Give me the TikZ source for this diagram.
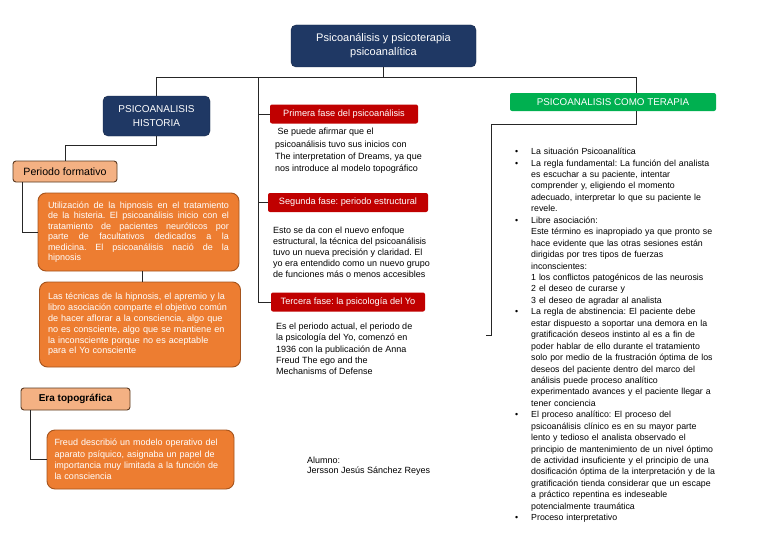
\documentclass[tikz,border=0pt]{standalone}
\usepackage{fontspec}
\setmainfont{Liberation Sans}
\usepackage{enumitem}
\usetikzlibrary{positioning,calc}
\definecolor{nv}{HTML}{1F3864}
\definecolor{rd}{HTML}{C00000}
\definecolor{gr}{HTML}{00B050}
\definecolor{or}{HTML}{ED7D31}
\definecolor{ob}{HTML}{A5541D}
\definecolor{lo}{HTML}{F4B183}
\definecolor{lb}{HTML}{5A3A22}
\definecolor{ln}{HTML}{262626}
\newcommand{\ft}[2]{\fontsize{#1}{#2}\selectfont}
\frenchspacing

\tikzset{
  navybox/.style={draw=nv!70!black, fill=nv, rounded corners=5pt, text=white,
    align=center, inner sep=2pt},
  phasebox/.style={fill=rd, rounded corners=2pt, text=white, minimum height=19pt,
    inner sep=2pt, font=\ft{9.2}{11}},
  periodbox/.style={draw=lb, fill=lo, rounded corners=3pt, text=black,
    inner sep=2pt, line width=0.9pt},
  notebox/.style={draw=ob, fill=or, rounded corners=8pt, text=white,
    inner sep=2pt, line width=0.9pt},
  plain/.style={anchor=north west, inner sep=0pt, align=left, text=black},
  link/.style={draw=ln, line width=0.8pt}
}

\begin{document}
\begin{tikzpicture}[x=1pt, y=-1pt]
  \fill[white] (0,0) rectangle (768,543);

  % main title and the three branches
  \node[navybox, minimum width=185pt, minimum height=42pt, font=\ft{11}{14}] (title)
    at (383.5,46) {Psicoanálisis y psicoterapia\\psicoanalítica};
  \node[navybox, minimum width=107pt, minimum height=40pt, font=\ft{10}{13.5}] (hist)
    at (156.5,116) {PSICOANALISIS\\HISTORIA};
  \node[fill=gr, rounded corners=2pt, text=white, minimum width=206pt, minimum height=18pt,
    inner sep=2pt, font=\ft{9.8}{11}] (terapia) at (613,102) {PSICOANALISIS COMO TERAPIA};

  \coordinate (bus) at (0,77);
  \coordinate (fase) at (258,77);
  \draw[link] (title.south) -- (title.south |- bus);
  \draw[link] (hist.north) -- (hist.north |- bus) -- ([xshift=23pt]terapia.north |- bus)
    -- ([xshift=23pt]terapia.north);

  % phases
  \node[phasebox, minimum width=148pt] (fase1) at (344,114) {Primera fase del psicoanálisis};
  \node[phasebox, minimum width=160pt] (fase2) at (348,202.5) {Segunda fase: periodo estructural};
  \node[phasebox, minimum width=154pt] (fase3) at (348,302) {Tercera fase: la psicología del Yo};
  \draw[link] (fase) |- (fase3.west);
  \draw[link] (fase |- fase1.west) -- (fase1.west);
  \draw[link] (fase |- fase2.west) -- (fase2.west);

  \node[plain, font=\ft{9}{12.3}] (txt1) at (275,128) {%
    \ Se puede afirmar que el\\psicoanálisis tuvo sus inicios con\\The interpretation of Dreams, ya que\\nos introduce al modelo topográfico};
  \node[plain, font=\ft{9}{11}] (txt2) at (273,227) {%
    Esto se da con el nuevo enfoque\\estructural, la técnica del psicoanálisis\\tuvo un nueva precisión y claridad. El\\yo era entendido como un nuevo grupo\\de funciones más o menos accesibles};
  \node[plain, font=\ft{9}{11.25}] (txt3) at (276,323) {%
    Es el periodo actual, el periodo de\\la psicología del Yo, comenzó en\\1936 con la publicación de Anna\\Freud The ego and the\\Mechanisms of Defense};
  \node[plain, font=\ft{9}{10}] (alumno) at (307,457) {Alumno:\\Jersson Jesús Sánchez Reyes};

  % history column
  \node[periodbox, minimum width=104pt, minimum height=21pt, font=\ft{10.6}{12}] (formativo)
    at (65,171.5) {Periodo formativo};
  \node[notebox, minimum width=201pt, minimum height=78pt, text width=181pt, align=justify,
    font=\ft{9}{10.5}] (hipno) at (138.5,232) {%
    Utilización de la hipnosis en el tratamiento\linebreak de la histeria. El psicoanálisis inicio con el\linebreak tratamiento de pacientes neuróticos por\linebreak parte de facultativos dedicados a la\linebreak medicina. El psicoanálisis nació de la\linebreak hipnosis};
  \node[notebox, minimum width=201pt, minimum height=85pt, text width=184pt, align=left,
    font=\ft{9.1}{10.8}] (tecnica) at (140,324.5) {%
    Las técnicas de la hipnosis, el apremio y la\\libro asociación comparte el objetivo común\\de hacer aflorar a la consciencia, algo que\\no es consciente, algo que se mantiene en\\la inconsciente porque no es aceptable\\para el Yo consciente};
  \node[periodbox, minimum width=109pt, minimum height=22pt, font=\bfseries\ft{10}{12}] (era)
    at (75.5,399) {Era topográfica};
  \node[notebox, minimum width=187pt, minimum height=59pt, text width=172pt, align=left,
    font=\ft{9}{11.3}] (freud) at (140.5,459.5) {%
    Freud describió un modelo operativo del\\aparato psíquico, asignaba un papel de\\importancia muy limitada a la función de\\la consciencia};

  \draw[link] (hist.south) -- ++(0,9) -| (formativo.north);
  \draw[link] ([xshift=-43pt]formativo.south) |- (hipno.west);
  \draw[link] ([xshift=4pt]hipno.south) -- ([xshift=4pt]hipno.south |- tecnica.north);
  \draw[link] ([xshift=-45.5pt]era.south) |- (freud.west);

  % therapy column
  \coordinate (brTop) at (491,124);
  \coordinate (brBot) at (491,335);
  \draw[link] ([xshift=23pt]terapia.south) |- (brTop) -- (brBot) -- ++(-5,0);

  \node[plain, text width=240pt, font=\ft{8.8}{11.44}] (lista) at (515,143) {%
    \begin{itemize}[leftmargin=16pt, labelsep=13pt, itemsep=0pt, topsep=0pt,
      parsep=0pt, partopsep=0pt, label=\textbullet]
    \item La situación Psicoanalítica
    \item La regla fundamental: La función del analista\newline es escuchar a su paciente, intentar\newline comprender y, eligiendo el momento\newline adecuado, interpretar lo que su paciente le\newline revele.
    \item Libre asociación:\newline Este término es inapropiado ya que pronto se\newline hace evidente que las otras sesiones están\newline dirigidas por tres tipos de fuerzas\newline inconscientes:\newline 1 los conflictos patogénicos de las neurosis\newline 2 el deseo de curarse y\newline 3 el deseo de agradar al analista
    \item La regla de abstinencia: El paciente debe\newline estar dispuesto a soportar una demora en la\newline gratificación deseos instinto al es a fin de\newline poder hablar de ello durante el tratamiento\newline solo por medio de la frustración óptima de los\newline deseos del paciente dentro del marco del\newline análisis puede proceso analítico\newline experimentado avances y el paciente llegar a\newline tener conciencia
    \item El proceso analítico: El proceso del\newline psicoanálisis clínico es en su mayor parte\newline lento y tedioso el analista observado el\newline principio de mantenimiento de un nivel óptimo\newline de actividad insuficiente y el principio de una\newline dosificación óptima de la interpretación y de la\newline gratificación tienda considerar que un escape\newline a práctico repentina es indeseable\newline potencialmente traumática
    \item Proceso interpretativo
    \end{itemize}};
\end{tikzpicture}
\end{document}
